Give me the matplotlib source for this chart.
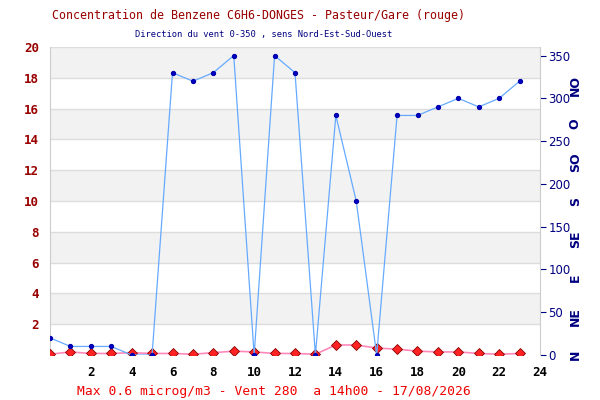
import numpy as np
import matplotlib
matplotlib.use("Agg")
import matplotlib.pyplot as plt

# heures de la journee
heures = list(range(24))
# benzene en microg/m3
benzene = [0.05, 0.2, 0.1, 0.1, 0.15, 0.1, 0.1, 0.05, 0.15, 0.25, 0.2, 0.1,
           0.1, 0.05, 0.65, 0.65, 0.45, 0.38, 0.25, 0.2, 0.2, 0.1, 0.05, 0.1]
# direction du vent en degres
vent = [20, 10, 10, 10, 0, 0, 330, 320, 330, 350, 0, 350,
        330, 0, 280, 180, 0, 280, 280, 290, 300, 290, 300, 320]
rose = ["N", "NE", "E", "SE", "S", "SO", "O", "NO"]
rose_deg = [0, 45, 90, 135, 180, 225, 270, 315]

rouge_fonce = "#990000"
marine = "#000080"
mono = "DejaVu Sans Mono"

fig = plt.figure(figsize=(6, 4), dpi=100)
ax = fig.add_axes([50/600, 45/400, 490/600, 308/400])
ax2 = ax.twinx()

# bandes grises alternees
for k in range(0, 20, 4):
    ax.axhspan(k + 2, k + 4, color="#f2f2f2", zorder=0, lw=0)
for k in range(2, 21, 2):
    ax.axhline(k, color="#dddddd", lw=1, zorder=1)

ax.set_xlim(0, 24)
ax.set_ylim(0, 20)
ax2.set_ylim(0, 360)

ax.plot(heures, benzene, color="#ff88bb", lw=1.2, zorder=3)
ax.plot(heures, benzene, ls="none", marker="D", ms=5, mfc="#ff2222",
        mec="#880000", mew=0.6, zorder=4)
ax2.plot(heures, vent, color="#66aaff", lw=0.9, marker="o", ms=2.8,
         mfc="#0000cc", mec="#0000aa", zorder=2)

# axes
for s in ["top", "bottom"]:
    ax.spines[s].set_visible(False)
    ax2.spines[s].set_visible(False)
ax.spines["left"].set_color("#cccccc")
ax2.spines["left"].set_visible(False)
ax2.spines["right"].set_color("#cccccc")
ax.spines["right"].set_visible(False)

ax.set_xticks(range(2, 25, 2))
ax.set_xticklabels([str(h) for h in range(2, 25, 2)], family=mono,
                   fontweight="bold", fontsize=9, color="black")
ax.tick_params(axis="x", length=0, pad=8)

ax.set_yticks(range(2, 21, 2))
ax.set_yticklabels([str(v) for v in range(2, 21, 2)], family=mono,
                   fontweight="bold", fontsize=9, color=rouge_fonce)
ax.tick_params(axis="y", length=0, pad=8)

ax2.set_yticks(range(0, 351, 50))
ax2.set_yticklabels([str(v) for v in range(0, 351, 50)], fontsize=8.5,
                    color=marine)
ax2.tick_params(axis="y", length=4, color=marine, width=0.8, pad=2)

for nom, d in zip(rose, rose_deg):
    ax2.text(1.072, d / 360, nom, transform=ax2.transAxes, rotation=90,
             ha="center", va="center", fontsize=9, fontweight="bold",
             color=marine, family="DejaVu Sans")

fig.text(0.43, 0.9625, "Concentration de Benzene C6H6-DONGES - Pasteur/Gare (rouge)",
         ha="center", va="center", family=mono, fontsize=8.4, color=rouge_fonce)
fig.text(0.44, 0.9125, "Direction du vent 0-350 , sens Nord-Est-Sud-Ouest",
         ha="center", va="center", family=mono, fontsize=6.3, color=marine)
fig.text(0.457, 0.02, "Max 0.6 microg/m3 - Vent 280  a 14h00 - 17/08/2026",
         ha="center", va="center", family=mono, fontsize=9.4, color="#ee0000")

fig.savefig("out.png", dpi=100)
